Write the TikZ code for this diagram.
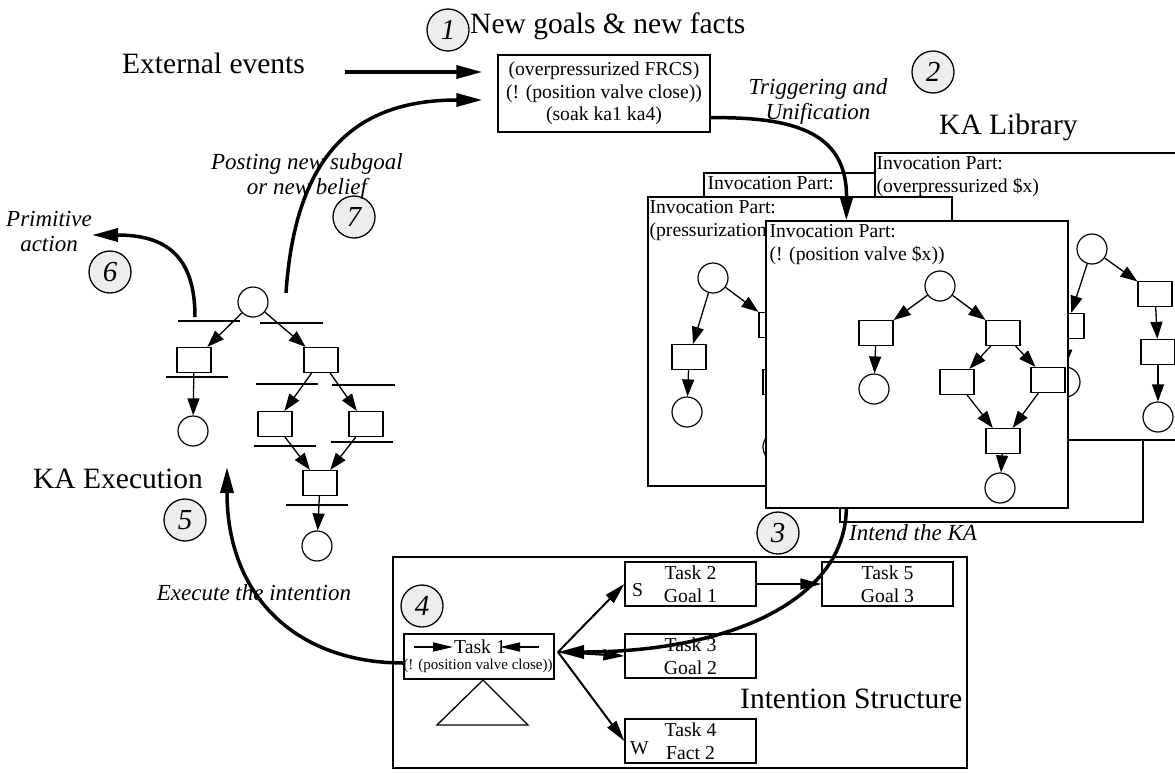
\documentclass[tikz,border=0pt]{standalone}
\usepackage{fontspec}
\setmainfont{Liberation Serif}
\usetikzlibrary{positioning, calc, arrows.meta}

\begin{document}
\begin{tikzpicture}[x=1pt, y=-1pt,
bigtext/.style={font=\fontsize{29.5}{33}\selectfont, inner sep=0pt},
smalltext/.style={font=\fontsize{19.7}{22.5}\selectfont},
lbl/.style={font=\fontsize{23}{25}\selectfont\itshape, align=center, inner sep=0pt},
num/.style={circle, draw, line width=1.3pt, fill=black!7, minimum size=42pt, inner sep=0pt, font=\fontsize{29}{30}\selectfont\itshape},
kabox/.style={rectangle, draw, fill=white, line width=1.3pt, inner sep=0pt},
katext/.style={smalltext, anchor=north west, align=left, inner sep=0pt},
place/.style={circle, draw, fill=white, line width=1.2pt, minimum size=30pt, inner sep=0pt},
trans/.style={rectangle, draw, fill=white, line width=1.2pt, minimum width=34pt, minimum height=25pt, inner sep=0pt},
task/.style={rectangle, draw, line width=1.3pt, minimum width=131pt, minimum height=44pt, align=center, smalltext, inner sep=0pt},
flow/.style={-{Triangle[length=26pt, width=13pt]}, line width=3.5pt},
netlink/.style={-{Triangle[length=17pt, width=12pt]}, line width=1.3pt},
fan/.style={-{Triangle[length=21pt, width=11pt]}, line width=2pt},
bar/.style={line width=2pt},
]
\useasboundingbox (0,0) rectangle (1175,772);

%Nodes
\node [num] (n1) at (448,30) {1};
\node [bigtext, anchor=base west] (goals) at (470,33) {New goals \& new facts};
\node [bigtext, anchor=base west] (ext) at (122,73) {External events};
\node [kabox, smalltext, minimum width=212pt, minimum height=77pt, align=center] (events) at (604,93.5) {(overpressurized FRCS)\\(! (position valve close))\\(soak ka1 ka4)};
\node [num] (n2) at (933,72) {2};
\node [lbl] (trig) at (818,101) {Triggering and\\Unification};
\node [bigtext, anchor=base west] (lib) at (939,134) {KA Library};

% KA library, back to front
\node [kabox, minimum width=303pt, minimum height=222pt] (h_box) at (991.5,411) {};
\node [kabox, minimum width=296pt, minimum height=227pt] (b2) at (852,286.5) {};
\node [katext] (b2_txt) at ($(b2.north west)+(4,4)$) {Invocation Part:};

\node [kabox, minimum width=305pt, minimum height=287pt] (b1) at (1027.5,296.5) {};
\node [katext] (b1_txt) at ($(b1.north west)+(2,4)$) {Invocation Part:\\(overpressurized \$x)};
\node [place] (b1_p1) at (1092,249) {};
\node [trans] (b1_t1) at (1067,326) {};
\node [place] (b1_p2) at (1065,382) {};
\node [trans] (b1_t2) at (1155,294) {};
\node [trans] (b1_t3) at (1158,352) {};
\node [place] (b1_p3) at (1158,417) {};
\draw [netlink] (b1_p1) -- (b1_t1);
\draw [netlink] (b1_t1) -- (b1_p2);
\draw [netlink] (b1_p1) -- (b1_t2);
\draw [netlink] (b1_t2) -- (b1_t3);
\draw [netlink] (b1_t3) -- (b1_p3);

\node [kabox, minimum width=304pt, minimum height=289pt] (b3) at (800,341.5) {};
\node [katext] (b3_txt) at ($(b3.north west)+(2,4)$) {Invocation Part:\\(pressurization};
\node [place] (b3_p1) at (713,278) {};
\node [trans] (b3_t1) at (689,357) {};
\node [place] (b3_p2) at (687,412) {};
\node [trans] (b3_t2) at (776,325) {};
\node [trans] (b3_t3) at (780,382) {};
\node [place] (b3_p3) at (778,447) {};
\draw [netlink] (b3_p1) -- (b3_t1);
\draw [netlink] (b3_t1) -- (b3_p2);
\draw [netlink] (b3_p1) -- (b3_t2);
\draw [netlink] (b3_t2) -- (b3_t3);
\draw [netlink] (b3_t3) -- (b3_p3);

\node [kabox, minimum width=302pt, minimum height=287pt] (b4) at (917,364.5) {};
\node [katext] (b4_txt) at ($(b4.north west)+(4,4)$) {Invocation Part:\\(! (position valve \$x))};
\node [place] (b4_p1) at (940,286) {};
\node [trans] (b4_t1) at (876,333) {};
\node [place] (b4_p2) at (874,389) {};
\node [trans] (b4_t2) at (1003,333) {};
\node [trans] (b4_t3) at (957,382) {};
\node [trans] (b4_t4) at (1048,380) {};
\node [trans] (b4_t5) at (1003,441) {};
\node [place] (b4_p3) at (1000,488) {};
\draw [netlink] (b4_p1) -- (b4_t1);
\draw [netlink] (b4_t1) -- (b4_p2);
\draw [netlink] (b4_p1) -- (b4_t2);
\draw [netlink] (b4_t2) -- (b4_t3);
\draw [netlink] (b4_t2) -- (b4_t4);
\draw [netlink] (b4_t3) -- (b4_t5);
\draw [netlink] (b4_t4) -- (b4_t5);
\draw [netlink] (b4_t5) -- (b4_p3);

% KA execution
\node [place] (e_p1) at (253,302) {};
\node [trans] (e_t1) at (194,360) {};
\node [place] (e_p2) at (193,431) {};
\node [trans] (e_t2) at (321,360) {};
\node [trans] (e_t3) at (275,424) {};
\node [trans] (e_t4) at (366,424) {};
\node [trans] (e_t5) at (320,483) {};
\node [place] (e_p3) at (317,546) {};
\draw [bar] (178,321) -- (240,321);
\draw [bar] (260,323) -- (323,323);
\draw [bar] (166,377) -- (228,377);
\draw [bar] (256,384) -- (318,384);
\draw [bar] (332,385) -- (395,385);
\draw [bar] (254,446) -- (316,446);
\draw [bar] (331,442) -- (393,442);
\draw [bar] (286,505) -- (348,505);
\draw [netlink] (e_p1) -- (e_t1);
\draw [netlink] (e_t1) -- (e_p2);
\draw [netlink] (e_p1) -- (e_t2);
\draw [netlink] (e_t2) -- (e_t3);
\draw [netlink] (e_t2) -- (e_t4);
\draw [netlink] (e_t3) -- (e_t5);
\draw [netlink] (e_t4) -- (e_t5);
\draw [netlink] (e_t5) -- (e_p3);

\node [bigtext, anchor=base west] (exec) at (33,488) {KA Execution};
\node [num] (n5) at (185,520) {5};
\node [num] (n6) at (110,272) {6};
\node [num] (n7) at (354,217) {7};
\node [lbl] (prim) at (49,231) {Primitive\\action};
\node [lbl] (post) at (307,176) {Posting new subgoal\\or new belief};
\node [lbl] (exec_lbl) at (254,593) {Execute the intention};
\node [num] (n3) at (778,533) {3};
\node [lbl, anchor=west] (intend) at (849,533) {Intend the KA};
\node [num] (n4) at (422,606) {4};

% Intention structure
\node [draw, line width=1.3pt, minimum width=574pt, minimum height=211pt, inner sep=0pt] (intention) at (680,662.5) {};
\node [bigtext, anchor=base west] (int_lbl) at (740,708) {Intention Structure};
\node [task] (task2) at (690.5,584) {Task 2\\Goal 1};
\node [smalltext, anchor=west, inner sep=0pt] (task2_s) at (632,590) {S};
\node [task] (task5) at (887.5,584) {Task 5\\Goal 3};
\node [task] (task3) at (690.5,656) {Task 3\\Goal 2};
\node [task] (task4) at (690.5,741) {Task 4\\Fact 2};
\node [smalltext, anchor=west, inner sep=0pt] (task4_w) at (630,748) {W};
\node [rectangle, draw, line width=1.3pt, minimum width=150pt, minimum height=45pt, inner sep=0pt] (task1) at (479,656.5) {};
\node [smalltext, inner sep=0pt] (task1_name) at (480,647) {Task 1};
\node [font=\fontsize{15}{17}\selectfont, inner sep=0pt] (task1_goal) at (478,666) {(! (position valve close))};
\draw [line width=1.3pt] (483,680) -- (528,725) -- (437,725) -- cycle;

% Paths
\coordinate (t1_la) at (414,647);
\coordinate (t1_lb) at (453,647);
\coordinate (t1_ra) at (539,647);
\coordinate (t1_rb) at (500,647);
\draw [-{Triangle[length=20pt, width=9pt]}, line width=1.5pt] (t1_la) -- (t1_lb);
\draw [-{Triangle[length=20pt, width=9pt]}, line width=1.5pt] (t1_ra) -- (t1_rb);

\coordinate (fan) at (558,652);
\draw [fan] (fan) -- (task2.west);
\draw [fan] (fan) -- (task3.west);
\draw [fan] (fan) -- (task4.west);
\draw [fan, line width=1.5pt] (task2) -- (task5);

\coordinate (ext_out) at ($(ext.base east)+(40,-1)$);
\coordinate (ext_in) at ($(events.west |- ext_out)+(-15,0)$);
\draw [flow] (ext_out) -- (ext_in);

\coordinate (post_out) at (286,293);
\coordinate (post_in) at ($(events.west)+(-15,6.5)$);
\draw [flow] (post_out) .. controls (295,160) and (350,100) .. (post_in);

\coordinate (trig_out) at ($(events.south east)+(0,-15)$);
\coordinate (trig_in) at ($(b4.north west)+(81,0)$);
\draw [flow, -{Triangle[length=24pt, width=13pt]}] (trig_out) .. controls (790,117) and (847,130) .. (trig_in);

\coordinate (intend_out) at ($(b4.south west)+(81,0)$);
\draw [flow] (intend_out) .. controls (845,600) and (730,652) .. (fan);

\coordinate (exec_out) at ($(task1.west)+(0,6.5)$);
\coordinate (exec_in) at (227,467);
\draw [flow] (exec_out) .. controls (300,663) and (227,600) .. (exec_in);

\coordinate (prim_out) at (195,317);
\coordinate (prim_in) at (92,235);
\draw [flow] (prim_out) .. controls (195,255) and (165,235) .. (prim_in);
\end{tikzpicture}
\end{document}
